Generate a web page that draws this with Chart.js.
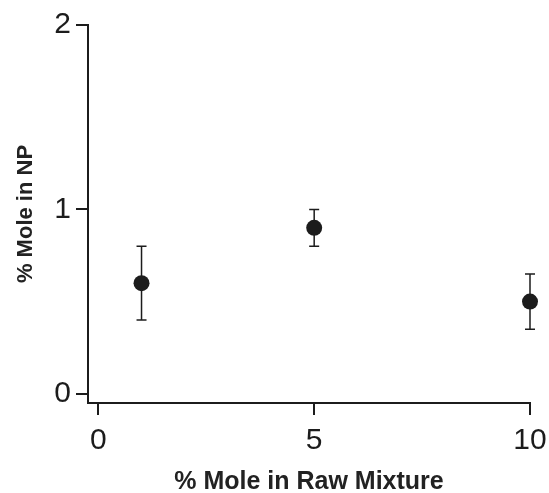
<!DOCTYPE html>
<html>
<head>
<meta charset="utf-8">
<script src="https://cdn.jsdelivr.net/npm/chart.js@4/dist/chart.umd.min.js"></script>
<style>
  body { margin: 0; background: #fff; }
  canvas { display: block; }
</style>
</head>
<body>
<canvas id="chart" width="549" height="493"></canvas>
<script>
// data
var xValues = [1, 5, 10];
var meanValues = [0.6, 0.9, 0.5];
var upperValues = [0.8, 1.0, 0.65];
var lowerValues = [0.4, 0.8, 0.35];
var xTicks = [0, 5, 10];
var yTicks = [0, 1, 2];

var ink = "#1c1c1c";
var fontFamily = "'Liberation Sans', Arial, Helvetica, sans-serif";

var points = [];
for (var i = 0; i < xValues.length; i++) {
  points.push({ x: xValues[i], y: meanValues[i] });
}

// draws the error bars behind the dots, through the chart scales
var errorBars = {
  id: "errorBars",
  beforeDatasetsDraw: function (chart) {
    var ctx = chart.ctx;
    var xs = chart.scales.x;
    var ys = chart.scales.y;
    ctx.save();
    ctx.strokeStyle = ink;
    ctx.lineWidth = 1.5;
    for (var i = 0; i < xValues.length; i++) {
      var px = xs.getPixelForValue(xValues[i]);
      var top = ys.getPixelForValue(upperValues[i]);
      var bot = ys.getPixelForValue(lowerValues[i]);
      ctx.beginPath();
      ctx.moveTo(px, top);
      ctx.lineTo(px, bot);
      ctx.moveTo(px - 5, top);
      ctx.lineTo(px + 5, top);
      ctx.moveTo(px - 5, bot);
      ctx.lineTo(px + 5, bot);
      ctx.stroke();
    }
    ctx.restore();
  }
};

var ctx = document.getElementById("chart").getContext("2d");
var chart = new Chart(ctx, {
  type: "scatter",
  data: {
    datasets: [{
      data: points,
      pointRadius: 8,
      pointHoverRadius: 8,
      pointBackgroundColor: ink,
      pointBorderColor: ink,
      pointBorderWidth: 0,
      clip: false
    }]
  },
  options: {
    responsive: false,
    animation: false,
    events: [],
    layout: { padding: { left: 0, right: 19, top: 25, bottom: 0 } },
    plugins: {
      legend: { display: false },
      tooltip: { enabled: false }
    },
    scales: {
      x: {
        type: "linear",
        min: -0.24,
        max: 10,
        afterBuildTicks: function (scale) {
          scale.ticks = xTicks.map(function (v) { return { value: v }; });
        },
        afterFit: function (scale) {
          scale.height = 90;
          scale.paddingLeft = 0;
          scale.paddingRight = 0;
        },
        grid: { drawOnChartArea: false, tickLength: 12, lineWidth: 2, color: ink },
        border: { color: ink, width: 2 },
        ticks: { color: ink, padding: 8, font: { family: fontFamily, size: 30 } },
        title: {
          display: true,
          text: "% Mole in Raw Mixture",
          color: "#222",
          font: { family: fontFamily, size: 25, weight: "bold", lineHeight: 1 },
          padding: { top: 0, bottom: -2 }
        }
      },
      y: {
        type: "linear",
        min: -0.05,
        max: 2,
        afterBuildTicks: function (scale) {
          scale.ticks = yTicks.map(function (v) { return { value: v }; });
        },
        afterFit: function (scale) { scale.width = 88; },
        grid: { drawOnChartArea: false, tickLength: 12, lineWidth: 2, color: ink },
        border: { color: ink, width: 2 },
        ticks: { color: ink, padding: 5, font: { family: fontFamily, size: 30 } },
        title: {
          display: true,
          text: "% Mole in NP",
          color: "#222",
          font: { family: fontFamily, size: 22, weight: "bold", lineHeight: 1 },
          padding: { top: 15, bottom: 0 }
        }
      }
    }
  },
  plugins: [errorBars]
});
</script>
</body>
</html>
